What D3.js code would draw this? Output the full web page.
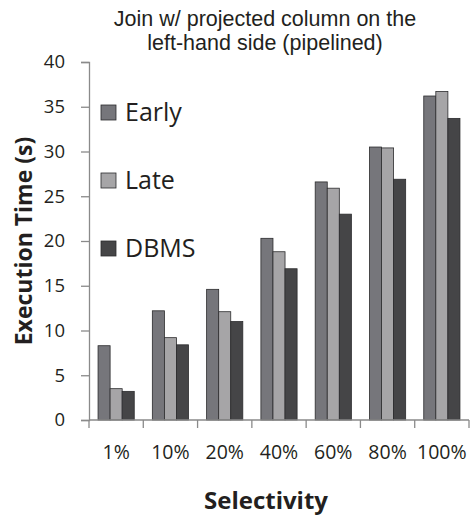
<!DOCTYPE html>
<html>
<head>
<meta charset="utf-8">
<script src="https://cdn.jsdelivr.net/npm/d3@7"></script>
<style>
  body { margin: 0; background: #fff; }
  text { font-family: "Open Sans", "Noto Sans", sans-serif; fill: #231f20; }
</style>
</head>
<body>
<div id="chart"></div>
<script>
var categories = ["1%", "10%", "20%", "40%", "60%", "80%", "100%"];
var seriesNames = ["Early", "Late", "DBMS"];
var early = [8.3, 12.2, 14.6, 20.3, 26.6, 30.5, 36.2];
var late = [3.5, 9.2, 12.1, 18.8, 25.9, 30.4, 36.7];
var dbms = [3.2, 8.4, 11.0, 16.9, 23.0, 26.9, 33.7];
var yTicks = [0, 5, 10, 15, 20, 25, 30, 35, 40];

var colors = { "Early": "#76767b", "Late": "#a6a5a7", "DBMS": "#454547" };
var values = { "Early": early, "Late": late, "DBMS": dbms };

var width = 471, height = 518;
var margin = { top: 62, right: 2, bottom: 98, left: 89 };

var svg = d3.select("#chart").append("svg")
    .attr("width", width)
    .attr("height", height);

var x = d3.scaleBand().domain(categories)
    .range([margin.left, width - margin.right])
    .paddingInner(0).paddingOuter(0);

var inner = d3.scaleBand().domain(seriesNames)
    .range([0, x.bandwidth()])
    .paddingOuter(0.75).paddingInner(0);

var y = d3.scaleLinear().domain([0, 40])
    .range([height - margin.bottom, margin.top]);

// bars
var rows = [];
categories.forEach(function (c, i) {
    seriesNames.forEach(function (s) {
        rows.push({ cat: c, series: s, value: values[s][i] });
    });
});

svg.append("g").selectAll("rect")
    .data(rows)
    .enter().append("rect")
    .attr("x", function (d) { return x(d.cat) + inner(d.series); })
    .attr("y", function (d) { return y(d.value); })
    .attr("width", inner.bandwidth())
    .attr("height", function (d) { return y(0) - y(d.value); })
    .style("fill", function (d) { return colors[d.series]; })
    .style("stroke", "#2b2b2d")
    .style("stroke-width", 0.8);

// y axis
var yAxis = svg.append("g")
    .attr("transform", "translate(" + margin.left + ",0)")
    .call(d3.axisLeft(y).tickValues(yTicks).tickSize(8).tickPadding(16));
yAxis.selectAll("text").style("font-size", "18.5px");
yAxis.selectAll("line, path").style("stroke", "#8a8a8a").style("stroke-width", 1.3);

// x axis, ticks between categories
var xAxis = svg.append("g")
    .attr("transform", "translate(0," + y(0) + ")");
xAxis.append("line")
    .attr("x1", margin.left).attr("x2", width - margin.right)
    .attr("y1", 0).attr("y2", 0)
    .style("stroke", "#8a8a8a").style("stroke-width", 1.3);
var bounds = categories.map(function (c) { return x(c); });
bounds.push(x(categories[categories.length - 1]) + x.bandwidth());
xAxis.selectAll("line.tick")
    .data(bounds)
    .enter().append("line")
    .attr("class", "tick")
    .attr("x1", function (d) { return d; }).attr("x2", function (d) { return d; })
    .attr("y1", 0).attr("y2", 8)
    .style("stroke", "#8a8a8a").style("stroke-width", 1.3);
xAxis.selectAll("text")
    .data(categories)
    .enter().append("text")
    .attr("x", function (d) { return x(d) + x.bandwidth() / 2; })
    .attr("y", 39)
    .attr("text-anchor", "middle")
    .style("font-size", "19.5px")
    .text(function (d) { return d; });

// titles (two lines, tighter font so they don't collide)
var titleLines = ["Join w/ projected column on the", "left-hand side (pipelined)"];
svg.selectAll("text.title")
    .data(titleLines)
    .enter().append("text")
    .attr("class", "title")
    .attr("x", 265)
    .attr("y", function (d, i) { return 25.5 + i * 24; })
    .attr("text-anchor", "middle")
    .style("font-family", "'Liberation Sans', Arial, sans-serif")
    .style("font-size", "21.5px")
    .text(function (d) { return d; });

svg.append("text")
    .attr("transform", "translate(32," + y(20) + ") rotate(-90)")
    .attr("text-anchor", "middle")
    .style("font-size", "23px")
    .style("font-weight", "bold")
    .text("Execution Time (s)");

svg.append("text")
    .attr("x", 266)
    .attr("y", 509)
    .attr("text-anchor", "middle")
    .style("font-size", "24px")
    .style("font-weight", "bold")
    .text("Selectivity");

// legend
var legend = svg.selectAll(".legend")
    .data(seriesNames)
    .enter().append("g")
    .attr("class", "legend")
    .attr("transform", function (d, i) { return "translate(101," + (105 + i * 68) + ")"; });
legend.append("rect")
    .attr("width", 15).attr("height", 15)
    .style("fill", function (d) { return colors[d]; })
    .style("stroke", "#2b2b2d").style("stroke-width", 0.8);
legend.append("text")
    .attr("x", 24).attr("y", 16)
    .style("font-size", "25px")
    .text(function (d) { return d; });
</script>
</body>
</html>
